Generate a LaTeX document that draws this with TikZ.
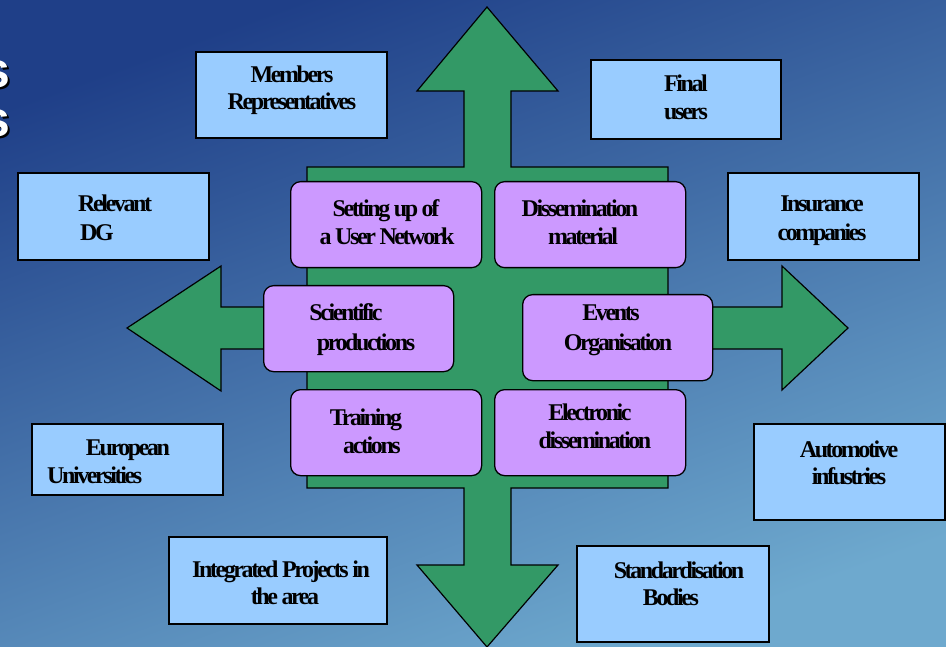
\documentclass[tikz,border=0pt]{standalone}
\usepackage{fontspec}
\newfontfamily\boxfont{Liberation Serif}[LetterSpace=-10]
\newfontfamily\titlefont{Liberation Sans}
\definecolor{bgdark}{HTML}{1F3F88}
\definecolor{bgmid}{HTML}{2C67A7}
\definecolor{bglight}{HTML}{6EA9CE}
\definecolor{arrowgreen}{HTML}{339966}
\definecolor{actpurple}{HTML}{CC99FF}
\definecolor{partblue}{HTML}{99CCFF}
\tikzset{
  bluebox/.style={draw=black, line width=1.6pt, fill=partblue, anchor=north west, inner sep=0pt},
  purplebox/.style={draw=black, line width=1.3pt, fill=actpurple, rounded corners=10pt, anchor=north west, inner sep=0pt},
  txt/.style={inner sep=0pt, anchor=base, font=\boxfont\bfseries\fontsize{24}{28}\selectfont, text=black},
  txtw/.style={txt, anchor=base west},
  ttl/.style={inner sep=0pt, anchor=base west, font=\titlefont\bfseries\fontsize{50}{56}\selectfont}
}
\begin{document}
\begin{tikzpicture}[x=1pt,y=-1pt]
\useasboundingbox (0,0) rectangle (946,647);
% background
\shade[top color=bgdark, middle color=bgmid, bottom color=bglight, shading angle=20] (0,0) rectangle (946,647);
% clipped title fragments
\begin{scope}
\clip (0,0) rectangle (946,647);
\node[ttl, text=black] (s1shadow) at (-16,90) {s};
\node[ttl, text=white] (s1) at (-18,88) {s};
\node[ttl, text=black] (s2shadow) at (-16,139) {s};
\node[ttl, text=white] (s2) at (-18,137) {s};
\end{scope}
% green cross arrow
\draw[fill=arrowgreen, draw=black, line width=1.2pt, line join=miter]
  (487,7) -- (558,91) -- (511,91) -- (511,167) -- (668,167) -- (668,307)
  -- (782,307) -- (782,266) -- (848,328) -- (782,390) -- (782,349) -- (668,349)
  -- (668,488) -- (511,488) -- (511,565) -- (558,565) -- (487,647) -- (417,565)
  -- (464,565) -- (464,488) -- (307,488) -- (307,349) -- (221,349) -- (221,391)
  -- (127,328) -- (221,266) -- (221,307) -- (307,307) -- (307,167) -- (464,167)
  -- (464,91) -- (417,91) -- cycle;
% purple activity boxes
\node[purplebox, minimum width=191pt, minimum height=86pt] (setting) at (290,181) {};
\node[purplebox, minimum width=191pt, minimum height=86pt] (dissem) at (494,181) {};
\node[purplebox, minimum width=190pt, minimum height=86pt] (scient) at (263,285) {};
\node[purplebox, minimum width=190pt, minimum height=86pt] (events) at (522,294) {};
\node[purplebox, minimum width=191pt, minimum height=86pt] (training) at (290,389) {};
\node[purplebox, minimum width=191pt, minimum height=86pt] (electro) at (494,389) {};
% blue partner boxes
\node[bluebox, minimum width=191pt, minimum height=86pt] (members) at (195,51) {};
\node[bluebox, minimum width=190pt, minimum height=79pt] (final) at (590,59) {};
\node[bluebox, minimum width=191pt, minimum height=87pt] (relevant) at (17,172) {};
\node[bluebox, minimum width=191pt, minimum height=87pt] (insurance) at (727,172) {};
\node[bluebox, minimum width=191pt, minimum height=71pt] (european) at (31,423) {};
\node[bluebox, minimum width=191pt, minimum height=96pt] (automotive) at (753,423) {};
\node[bluebox, minimum width=218pt, minimum height=87pt] (integrated) at (168,536) {};
\node[bluebox, minimum width=192pt, minimum height=96pt] (standard) at (576,545) {};
% texts: purple
\node[txt] (t-setting1) at (386,217) {Setting up of};
\node[txt] (t-setting2) at (387,245) {a User Network};
\node[txt] (t-dissem1) at (580,217) {Dissemination};
\node[txt] (t-dissem2) at (583,245) {material};
\node[txt] (t-scient1) at (346,321) {Scientific};
\node[txt] (t-scient2) at (366,350) {productions};
\node[txt] (t-events1) at (611,321) {Events};
\node[txt] (t-events2) at (618,350) {Organisation};
\node[txt] (t-training1) at (366,425) {Training};
\node[txt] (t-training2) at (372,453) {actions};
\node[txt] (t-electro1) at (590,420) {Electronic};
\node[txt] (t-electro2) at (595,448) {dissemination};
% texts: blue
\node[txt] (t-members1) at (292,83) {Members};
\node[txt] (t-members2) at (292,110) {Representatives};
\node[txt] (t-final1) at (686,92) {Final};
\node[txt] (t-final2) at (686,120) {users};
\node[txtw] (t-relevant1) at (78,212) {Relevant};
\node[txtw] (t-relevant2) at (80,241) {DG};
\node[txt] (t-insurance1) at (822,212) {Insurance};
\node[txt] (t-insurance2) at (822,241) {companies};
\node[txt] (t-european1) at (128,455) {European};
\node[txtw] (t-european2) at (47,483) {Universities};
\node[txt] (t-automotive1) at (849,457) {Automotive};
\node[txt] (t-automotive2) at (849,484) {infustries};
\node[txt] (t-integrated1) at (281,577) {Integrated Projects in};
\node[txt] (t-integrated2) at (285,604) {the area};
\node[txt] (t-standard1) at (679,578) {Standardisation};
\node[txt] (t-standard2) at (671,605) {Bodies};
\end{tikzpicture}
\end{document}
